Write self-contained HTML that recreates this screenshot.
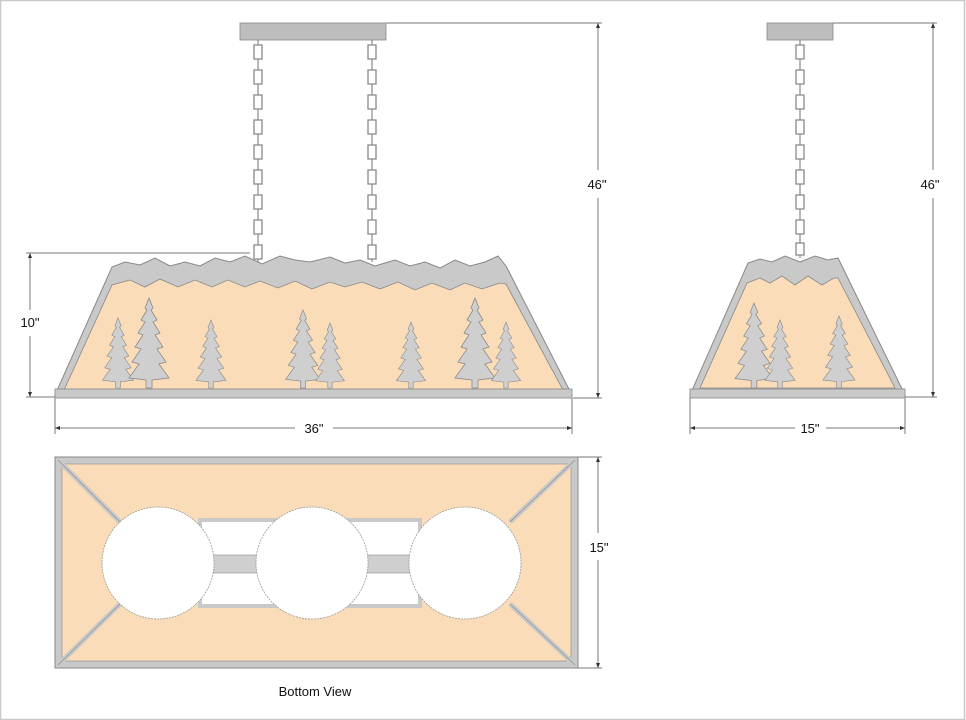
<!DOCTYPE html>
<html><head><meta charset="utf-8"><style>
html,body{margin:0;padding:0;background:#fff}
svg{display:block}
text{font-family:"Liberation Sans",sans-serif;fill:#111}
</style></head><body>
<svg width="966" height="720" viewBox="0 0 966 720" xmlns="http://www.w3.org/2000/svg">
<defs>
<symbol id="tree" viewBox="-20 -90 40 90" overflow="visible">
<path d="M0,-90 L4,-80 L2,-78 L8,-68 L4,-66 L11,-55 L6,-53 L14,-41 L8,-39 L17,-26 L10,-24 L20,-10 L3,-8 L3,0 L-3,0 L-3,-8 L-20,-10 L-10,-24 L-17,-26 L-8,-39 L-14,-41 L-6,-53 L-11,-55 L-4,-66 L-8,-68 L-2,-78 L-4,-80 Z" fill="#cfcfcf" stroke="#8a8a8a" stroke-width="0.8"/>
</symbol>
</defs>
<rect x="0.5" y="0.5" width="964" height="719" fill="none" stroke="#c8c8c8" stroke-width="1.5"/>
<g stroke="#777" stroke-width="1" fill="none">
<line x1="386" y1="23" x2="602" y2="23"/><line x1="598" y1="23" x2="598" y2="170"/><line x1="598" y1="198" x2="598" y2="398"/>
<line x1="573" y1="398" x2="602" y2="398"/>
<line x1="26" y1="253" x2="250" y2="253"/><line x1="30" y1="253" x2="30" y2="310"/><line x1="30" y1="336" x2="30" y2="397"/>
<line x1="26" y1="397" x2="56" y2="397"/>
<line x1="55" y1="398" x2="55" y2="434"/><line x1="572" y1="398" x2="572" y2="434"/>
<line x1="55" y1="428" x2="295" y2="428"/><line x1="333" y1="428" x2="572" y2="428"/>
<line x1="833" y1="23" x2="937" y2="23"/><line x1="933" y1="23" x2="933" y2="170"/><line x1="933" y1="198" x2="933" y2="397"/>
<line x1="905" y1="397" x2="937" y2="397"/>
<line x1="690" y1="398" x2="690" y2="434"/><line x1="905" y1="398" x2="905" y2="434"/>
<line x1="690" y1="428" x2="795" y2="428"/><line x1="826" y1="428" x2="905" y2="428"/>
<line x1="578" y1="457" x2="602" y2="457"/><line x1="578" y1="668" x2="602" y2="668"/>
<line x1="598" y1="457" x2="598" y2="533"/><line x1="598" y1="560" x2="598" y2="668"/>
</g>
<g fill="#333">
<path d="M598,23 l-2,5 h4z M598,398 l-2,-5 h4z M30,253 l-2,5 h4z M30,397 l-2,-5 h4z M55,428 l5,-2 v4z M572,428 l-5,-2 v4z"/>
<path d="M933,23 l-2,5 h4z M933,397 l-2,-5 h4z M690,428 l5,-2 v4z M905,428 l-5,-2 v4z M598,457 l-2,5 h4z M598,668 l-2,-5 h4z"/>
</g>
<rect x="240" y="23" width="146" height="17" fill="#bdbdbd" stroke="#888" stroke-width="0.8"/>
<rect x="767" y="23" width="66" height="17" fill="#bdbdbd" stroke="#888" stroke-width="0.8"/>
<g stroke="#888" stroke-width="1.2">
<line x1="258" y1="40" x2="258" y2="262"/>
<line x1="372" y1="40" x2="372" y2="262"/>
<line x1="800" y1="40" x2="800" y2="258"/>
</g>
<g stroke="#888" stroke-width="1.3" fill="#fff">
<path d="M254,45 h8 v14 h-8z M254,70 h8 v14 h-8z M254,95 h8 v14 h-8z M254,120 h8 v14 h-8z M254,145 h8 v14 h-8z M254,170 h8 v14 h-8z M254,195 h8 v14 h-8z M254,220 h8 v14 h-8z M254,245 h8 v14 h-8z"/>
<path d="M368,45 h8 v14 h-8z M368,70 h8 v14 h-8z M368,95 h8 v14 h-8z M368,120 h8 v14 h-8z M368,145 h8 v14 h-8z M368,170 h8 v14 h-8z M368,195 h8 v14 h-8z M368,220 h8 v14 h-8z M368,245 h8 v14 h-8z"/>
<path d="M796,45 h8 v14 h-8z M796,70 h8 v14 h-8z M796,95 h8 v14 h-8z M796,120 h8 v14 h-8z M796,145 h8 v14 h-8z M796,170 h8 v14 h-8z M796,195 h8 v14 h-8z M796,220 h8 v14 h-8z M796,243 h8 v12 h-8z"/>
</g>
<path d="M55,395 L112,267 L125,262 L140,265 L155,258 L170,266 L185,262 L200,266 L215,258 L230,262 L245,256 L262,264 L280,256 L295,260 L310,262 L330,257 L345,263 L360,260 L375,266 L395,260 L410,266 L425,262 L440,268 L455,260 L470,266 L485,262 L498,256 L506,266 L572,395 Z" fill="#c9c9c9" stroke="#888" stroke-width="1"/>
<path d="M64,390 L112,285 L130,280 L145,287 L160,279 L178,287 L195,280 L212,287 L228,280 L245,287 L260,281 L278,288 L295,281 L312,289 L330,282 L345,287 L362,282 L380,289 L398,282 L415,290 L432,283 L450,290 L465,283 L482,289 L500,283 L506,284 L563,390 Z" fill="#fadcb8" stroke="#888" stroke-width="0.8"/>
<use href="#tree" x="98" y="318" width="40" height="70"/>
<use href="#tree" x="124" y="298" width="50" height="90"/>
<use href="#tree" x="188" y="320" width="46" height="68"/>
<use href="#tree" x="280" y="310" width="46" height="78"/>
<use href="#tree" x="308" y="323" width="44" height="65"/>
<use href="#tree" x="388" y="322" width="46" height="66"/>
<use href="#tree" x="450" y="298" width="50" height="90"/>
<use href="#tree" x="484" y="322" width="44" height="66"/>
<rect x="55" y="389" width="517" height="9" fill="#c9c9c9" stroke="#888" stroke-width="0.8"/>
<path d="M690,395 L748,263 L760,259 L772,262 L785,256 L800,262 L815,256 L828,260 L838,258 L905,395 Z" fill="#c9c9c9" stroke="#888" stroke-width="1"/>
<path d="M700,388 L747,283 L760,278 L770,283 L782,276 L795,285 L808,276 L822,285 L834,278 L838,278 L895,388 Z" fill="#fadcb8" stroke="#888" stroke-width="0.8"/>
<use href="#tree" x="731" y="303" width="46" height="85"/>
<use href="#tree" x="758" y="320" width="44" height="68"/>
<use href="#tree" x="815" y="316" width="48" height="72"/>
<rect x="690" y="389" width="215" height="9" fill="#c9c9c9" stroke="#888" stroke-width="0.8"/>
<!-- bottom view -->
<rect x="55" y="457" width="523" height="211" fill="#c9c9c9" stroke="#888" stroke-width="1"/>
<rect x="62" y="464" width="509" height="197" fill="#fadcb8" stroke="#888" stroke-width="0.6"/>
<g stroke="#c9c9c9" stroke-width="5"><line x1="58" y1="460" x2="120" y2="522"/><line x1="575" y1="460" x2="510" y2="522"/><line x1="58" y1="665" x2="120" y2="604"/><line x1="575" y1="665" x2="510" y2="604"/></g>
<g stroke="#888" stroke-width="0.6" fill="none"><line x1="58" y1="460" x2="120" y2="522"/><line x1="575" y1="460" x2="510" y2="522"/><line x1="58" y1="665" x2="120" y2="604"/><line x1="575" y1="665" x2="510" y2="604"/></g>
<rect x="200" y="520" width="220" height="86" fill="#fff" stroke="#c9c9c9" stroke-width="4"/>
<rect x="205" y="555" width="220" height="18" fill="#cfcfcf" stroke="#888" stroke-width="0.6"/>
<g fill="#fff" stroke="#999" stroke-width="0.8" stroke-dasharray="2,1">
<circle cx="158" cy="563" r="56"/><circle cx="312" cy="563" r="56"/><circle cx="465" cy="563" r="56"/>
</g>
<text x="597" y="189" font-size="13" text-anchor="middle">46"</text>
<text x="30" y="327" font-size="13" text-anchor="middle">10"</text>
<text x="314" y="433" font-size="13" text-anchor="middle">36"</text>
<text x="930" y="189" font-size="13" text-anchor="middle">46"</text>
<text x="810" y="433" font-size="13" text-anchor="middle">15"</text>
<text x="599" y="552" font-size="13" text-anchor="middle">15"</text>
<text x="315" y="696" font-size="13" text-anchor="middle">Bottom View</text>
</svg>
</body></html>
